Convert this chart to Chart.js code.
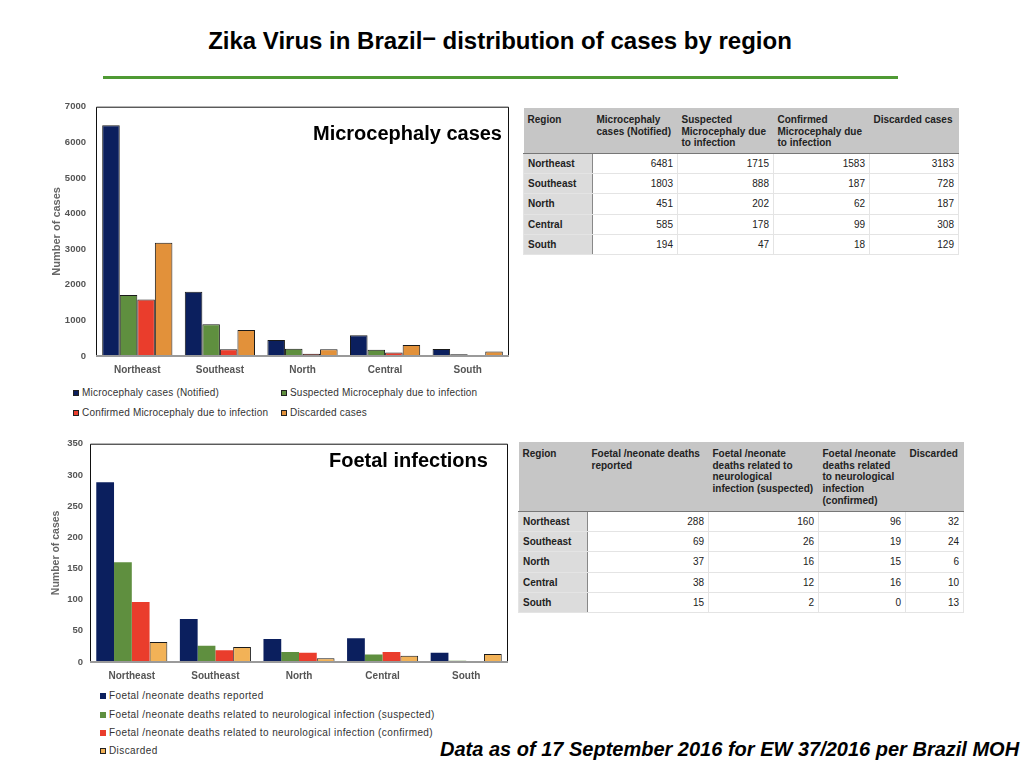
<!DOCTYPE html>
<html>
<head>
<meta charset="utf-8">
<script src="https://cdn.jsdelivr.net/npm/chart.js@4/dist/chart.umd.min.js"></script>
<style>
  body { margin: 0; width: 1024px; height: 768px; background: #fff; position: relative; overflow: hidden;
         font-family: "Liberation Sans", Arial, sans-serif; }
  .abs { position: absolute; }
  #titre { left: 0; width: 1000px; top: 27px; text-align: center; font-family: "Liberation Sans Narrow", "Liberation Sans", Arial, sans-serif;
           font-weight: bold; font-size: 24px; color: #000; }
  #ligne { left: 103px; top: 76px; width: 795px; height: 3px; background: #4f9a34; }
  .titreGraf { font-weight: bold; font-size: 20px; color: #000; }
  .legende { font-size: 10px; color: #333; letter-spacing: 0.2px; }
  .legende .item { position: absolute; white-space: nowrap; }
  .legende .carre { display: inline-block; width: 6px; height: 6px; margin-right: 3px; vertical-align: 0px; box-sizing: border-box; }
  #legFoetal { letter-spacing: 0.4px; }
  table { border-collapse: collapse; color: #222; }
  th { background: #c6c6c6; font-weight: bold; font-size: 10px; text-align: left; vertical-align: top; padding: 6px 4px 0 4px; line-height: 11.7px; border-bottom: 1px solid #777; }
  td { height: 19.4px; padding: 0 4px; border: 1px solid #e4e4e4; text-align: right; font-size: 10px; }
  td.reg { background: #dcdcdc; font-weight: bold; text-align: left; border-right: 1px solid #888; }
  #pied { left: 440px; top: 738px; font-weight: bold; font-style: italic; font-size: 20px; color: #000; }
</style>
</head>
<body>
<div id="titre" class="abs">Zika Virus in Brazil<span style="position:relative;top:-4px">–</span> distribution of cases by region</div>
<div id="ligne" class="abs"></div>

<canvas id="grafMicro" class="abs" style="left:40px;top:91px" width="472" height="291"></canvas>
<div class="abs titreGraf" style="left:313px;top:122px">Microcephaly cases</div>
<div id="legMicro" class="abs legende" style="left:0;top:0"></div>
<div id="tabMicro" class="abs" style="left:523px;top:108px"></div>

<canvas id="grafFoetal" class="abs" style="left:40px;top:431px" width="472" height="257"></canvas>
<div class="abs titreGraf" style="left:329px;top:449px">Foetal infections</div>
<div id="legFoetal" class="abs legende" style="left:0;top:0"></div>
<div id="tabFoetal" class="abs" style="left:518px;top:442px"></div>

<div id="pied" class="abs">Data as of 17 September 2016 for EW 37/2016 per Brazil MOH</div>

<script>
const regions = ['Northeast', 'Southeast', 'North', 'Central', 'South'];

const seriesMicro = ['Microcephaly cases (Notified)', 'Suspected Microcephaly due to infection',
                     'Confirmed Microcephaly due to infection', 'Discarded cases'];
const enteteMicro = ['Microcephaly cases (Notified)', 'Suspected Microcephaly due to infection',
                     'Confirmed Microcephaly due to infection', 'Discarded cases'];
const microNotifies = [6481, 1803, 451, 585, 194];
const microSuspects = [1715, 888, 202, 178, 47];
const microConfirmes = [1583, 187, 62, 99, 18];
const microEcartes = [3183, 728, 187, 308, 129];
const ticksMicro = [0, 1000, 2000, 3000, 4000, 5000, 6000, 7000];

const seriesFoetal = ['Foetal /neonate deaths reported',
                      'Foetal /neonate deaths related to neurological infection (suspected)',
                      'Foetal /neonate deaths related to neurological infection (confirmed)',
                      'Discarded'];
const enteteFoetal = ['Foetal /neonate deaths reported', 'Foetal /neonate deaths related to neurological infection (suspected)',
                      'Foetal /neonate deaths related to neurological infection (confirmed)', 'Discarded'];
const foetalRapportes = [288, 69, 37, 38, 15];
const foetalSuspects = [160, 26, 16, 12, 2];
const foetalConfirmes = [96, 19, 15, 16, 0];
const foetalEcartes = [32, 24, 6, 10, 13];
const ticksFoetal = [0, 50, 100, 150, 200, 250, 300, 350];

const couleursMicro = ['#0b1f5e', '#5f8f3f', '#ea3d2c', '#e2913a'];
const couleursFoetal = ['#0b1f5e', '#5f8f3f', '#ea3d2c', '#f2b257'];

// cadre autour de la zone de tracé
const pluginCadre = {
    id: 'cadre',
    afterDraw(chart) {
        const a = chart.chartArea, ctx = chart.ctx;
        ctx.save();
        ctx.strokeStyle = '#111';
        ctx.lineWidth = 1;
        ctx.beginPath();
        ctx.moveTo(a.left + 0.5, a.bottom);
        ctx.lineTo(a.left + 0.5, a.top + 0.5);
        ctx.lineTo(a.right - 0.5, a.top + 0.5);
        ctx.lineTo(a.right - 0.5, a.bottom);
        ctx.stroke();
        ctx.strokeStyle = '#9a9a9a';
        ctx.lineWidth = 2;
        ctx.beginPath();
        ctx.moveTo(a.left, a.bottom);
        ctx.lineTo(a.right, a.bottom);
        ctx.stroke();
        ctx.restore();
    }
};

function creerGraphique(id, series, valeurs, couleurs, bordures, ticks, cfg) {
    const ctx = document.getElementById(id).getContext('2d');
    return new Chart(ctx, {
        type: 'bar',
        data: {
            labels: regions,
            datasets: series.map((nom, i) => ({
                label: nom,
                data: valeurs[i],
                backgroundColor: couleurs[i],
                borderColor: '#1a1a1a',
                borderWidth: bordures[i],
                borderSkipped: 'bottom',
                barPercentage: 1,
                categoryPercentage: 0.85
            }))
        },
        options: {
            responsive: false,
            animation: false,
            layout: { padding: { top: 0, right: cfg.droite } },
            plugins: { legend: { display: false }, tooltip: { enabled: false } },
            scales: {
                x: {
                    grid: { display: false, drawTicks: false },
                    border: { display: false },
                    ticks: { color: '#555', font: { family: 'Liberation Sans', size: 10, weight: 'bold' }, padding: 8 },
                    afterFit: s => { s.height = cfg.hautX; }
                },
                y: {
                    min: 0,
                    max: ticks[ticks.length - 1],
                    afterBuildTicks: s => { s.ticks = ticks.map(v => ({ value: v })); },
                    grid: { display: false, drawTicks: false },
                    border: { display: false },
                    ticks: {
                        color: '#555', font: { family: 'Liberation Sans', size: 9.5, weight: 'bold' }, padding: cfg.padY,
                        callback: v => String(v)
                    },
                    title: {
                        display: true, text: 'Number of cases', color: '#666',
                        font: { family: 'Liberation Sans', size: cfg.titreY, weight: 'bold' },
                        padding: { top: 10, bottom: 0 }
                    },
                    afterFit: s => { s.width = cfg.largeurY; }
                }
            }
        },
        plugins: [pluginCadre]
    });
}

function creerLegende(idDiv, chart, positions, bordureCarre) {
    const div = document.getElementById(idDiv);
    chart.data.datasets.forEach((ds, i) => {
        const it = document.createElement('div');
        it.className = 'item';
        it.style.left = positions[i][0] + 'px';
        it.style.top = positions[i][1] + 'px';
        const c = document.createElement('span');
        c.className = 'carre';
        c.style.background = ds.backgroundColor;
        if (bordureCarre[i]) c.style.border = '1px solid #222';
        it.appendChild(c);
        it.appendChild(document.createTextNode(ds.label));
        div.appendChild(it);
    });
}

function creerTableau(idDiv, entetes, valeurs, largeurs, hautEntete) {
    let html = '<table><tr style="height:' + hautEntete + 'px"><th style="width:' + (largeurs[0] - 8) + 'px">Region</th>';
    entetes.forEach((e, i) => { html += '<th style="width:' + (largeurs[i + 1] - 8) + 'px">' + e + '</th>'; });
    html += '</tr>';
    regions.forEach((r, j) => {
        html += '<tr><td class="reg">' + r + '</td>';
        valeurs.forEach(v => { html += '<td>' + v[j] + '</td>'; });
        html += '</tr>';
    });
    html += '</table>';
    document.getElementById(idDiv).innerHTML = html;
}

window.onload = function() {
    const micro = creerGraphique('grafMicro', seriesMicro,
        [microNotifies, microSuspects, microConfirmes, microEcartes],
        couleursMicro, [1, 1, 1, 1], ticksMicro,
        { droite: 3, hautX: 26, largeurY: 56, padY: 10, titreY: 11 });
    const foetal = creerGraphique('grafFoetal', seriesFoetal,
        [foetalRapportes, foetalSuspects, foetalConfirmes, foetalEcartes],
        couleursFoetal, [0, 0, 0, 1], ticksFoetal,
        { droite: 4, hautX: 26, largeurY: 50, padY: 7, titreY: 10.5 });

    creerLegende('legMicro', micro, [[73, 387], [281, 387], [73, 407], [281, 407]], [1, 1, 1, 1]);
    creerLegende('legFoetal', foetal, [[100, 690], [100, 709], [100, 727], [100, 745]], [0, 0, 0, 1]);

    creerTableau('tabMicro', enteteMicro,
        [microNotifies, microSuspects, microConfirmes, microEcartes], [69, 85, 96, 96, 89], 45);
    creerTableau('tabFoetal', enteteFoetal,
        [foetalRapportes, foetalSuspects, foetalConfirmes, foetalEcartes], [69, 121, 110, 87, 58], 69);
};
</script>
</body>
</html>
